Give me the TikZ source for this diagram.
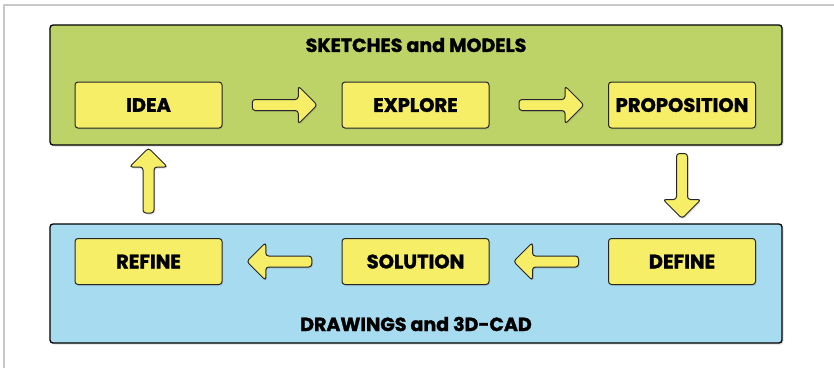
\documentclass[tikz,border=0pt]{standalone}
\usepackage{fontspec}
\setmainfont{Poppins}[BoldFeatures={FakeBold=1.5}]
\usepackage{tikz}
\usetikzlibrary{shapes.arrows}
\usetikzlibrary{shadows}
\definecolor{panelgreen}{RGB}{189,211,103}
\definecolor{panelblue}{RGB}{167,219,240}
\definecolor{stageyellow}{RGB}{247,238,104}
\definecolor{framegrey}{RGB}{200,200,200}

\begin{document}
\begin{tikzpicture}[x=1pt,y=-1pt,
	panel/.style={draw=black,line width=1.3pt,rounded corners=3pt,minimum width=732pt,inner sep=0pt,
		drop shadow={opacity=0.25,shadow xshift=1.5pt,shadow yshift=-1.5pt}},
	stage/.style={draw=black!85,line width=1pt,fill=stageyellow,rounded corners=3pt,
		minimum width=147pt,minimum height=46pt,inner sep=0pt,font=\fontsize{19.5}{21}\selectfont\bfseries,
		drop shadow={opacity=0.2,shadow xshift=1pt,shadow yshift=-1.5pt}},
	paneltitle/.style={font=\fontsize{19}{21}\selectfont\bfseries,inner sep=0pt},
	fatarrow/.style={single arrow,draw=black!85,line width=1pt,fill=stageyellow,sloped,allow upside down,
		minimum height=65pt,inner xsep=0pt,inner ysep=5pt,text height=0pt,text depth=0pt,text width=0pt,
		single arrow head extend=13.5pt,rounded corners=3pt,
		drop shadow={opacity=0.25,shadow xshift=1pt,shadow yshift=-1.5pt}}]
	\useasboundingbox (0,0) rectangle (834,368);
	\draw[framegrey,line width=1.2pt] (4,368) -- (4,5) -- (834,5);

	\node[panel,fill=panelgreen,minimum height=120pt] (sketches) at (416,85) {};
	\node[panel,fill=panelblue,minimum height=119pt] (drawings) at (416,283.5) {};
	\node[paneltitle] (sketchestitle) at (416,45) {SKETCHES and MODELS};
	\node[paneltitle] (drawingstitle) at (416,324) {DRAWINGS and 3D-CAD};

	\node[stage] (idea) at (148.5,105) {IDEA};
	\node[stage] (explore) at (415.5,105) {EXPLORE};
	\node[stage] (proposition) at (682,105) {PROPOSITION};

	\node[stage] (refine) at (148.5,261.5) {REFINE};
	\node[stage] (solution) at (415.5,261.5) {SOLUTION};
	\node[stage] (define) at (682,261.5) {DEFINE};

	\path (idea) -- node[fatarrow] {} (explore);
	\path (explore) -- node[fatarrow] {} (proposition);
	\path (proposition) -- node[fatarrow] {} (define);
	\path (define) -- node[fatarrow] {} (solution);
	\path (solution) -- node[fatarrow] {} (refine);
	\path (refine) -- node[fatarrow] {} (idea);

\end{tikzpicture}
\end{document}
